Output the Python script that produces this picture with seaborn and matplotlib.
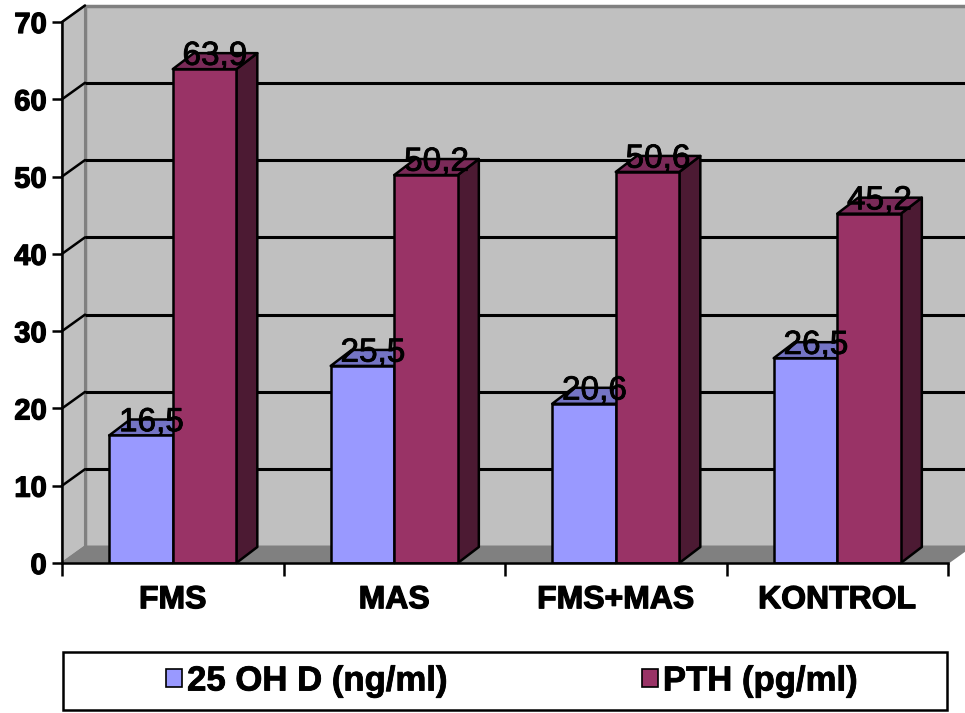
import matplotlib
matplotlib.use("Agg")
import matplotlib.pyplot as plt
import matplotlib.patheffects as pe
from matplotlib.patches import Polygon, Rectangle, Patch
import seaborn as sns
import pandas as pd

# Data
categories = ["FMS", "MAS", "FMS+MAS", "KONTROL"]
series_names = ["25 OH D (ng/ml)", "PTH (pg/ml)"]
vit_d = [16.5, 25.5, 20.6, 26.5]
pth = [63.9, 50.2, 50.6, 45.2]
y_ticks = [0, 10, 20, 30, 40, 50, 60, 70]

front_colors = ["#9999FF", "#993366"]
top_colors = ["#7474C4", "#7A2A58"]
side_colors = ["#5A5AA0", "#4C1A33"]
wall_color = "#C0C0C0"
floor_color = "#808080"
edge_grey = "#808080"

df = pd.DataFrame({
    "group": categories * 2,
    "series": [series_names[0]] * 4 + [series_names[1]] * 4,
    "value": vit_d + pth,
})

sns.set_theme(style="white")
plt.rcParams["font.family"] = ["Liberation Sans", "DejaVu Sans"]
plt.rcParams["text.color"] = "black"
plt.rcParams["xtick.labelcolor"] = "black"
plt.rcParams["ytick.labelcolor"] = "black"

heavy = [pe.withStroke(linewidth=0.9, foreground="black")]

W, H = 965, 713
fig = plt.figure(figsize=(W / 100, H / 100), dpi=100)
fig.patch.set_facecolor("white")

# front plane of the 3D box
ax_left, ax_right, ax_bottom, ax_top = 62, 948, 563, 22
ax = fig.add_axes([ax_left / W, (H - ax_bottom) / H,
                   (ax_right - ax_left) / W, (ax_bottom - ax_top) / H])
ax.set_facecolor("none")

sns.barplot(data=df, x="group", y="value", hue="series", order=categories,
            hue_order=series_names, palette=front_colors, width=0.574,
            edgecolor="black", linewidth=1.8, saturation=1, legend=False,
            ax=ax, zorder=3)

ax.set_xlim(-0.5, len(categories) - 0.5)
ax.set_ylim(0, 70)

# pixel -> data conversion for depth offsets
px_x = (len(categories)) / (ax_right - ax_left)
px_y = 70 / (ax_bottom - ax_top)

wall_dx, wall_dy = 23 * px_x, 16.5 * px_y
bar_dx, bar_dy = 21 * px_x, 16 * px_y

x0, x1 = -0.5, len(categories) - 0.5

# side wall, back wall and floor
side_wall = Polygon([(x0, 0), (x0, 70), (x0 + wall_dx, 70 + wall_dy), (x0 + wall_dx, wall_dy)],
                    closed=True, facecolor=wall_color, edgecolor=edge_grey, lw=1.5,
                    zorder=0.5, clip_on=False)
back_wall = Polygon([(x0 + wall_dx, wall_dy), (x1 + wall_dx, wall_dy),
                     (x1 + wall_dx, 70 + wall_dy), (x0 + wall_dx, 70 + wall_dy)],
                    closed=True, facecolor=wall_color, edgecolor=edge_grey, lw=2.5,
                    zorder=0.4, clip_on=False)
floor = Polygon([(x0, 0), (x1, 0), (x1 + wall_dx, wall_dy), (x0 + wall_dx, wall_dy)],
                closed=True, facecolor=floor_color, edgecolor=edge_grey, lw=1.2,
                zorder=0.6, clip_on=False)
for p in (side_wall, back_wall, floor):
    ax.add_patch(p)

# gridlines on the back wall plus the slanted lines on the side wall
for v in y_ticks[1:-1]:
    ax.plot([x0 + wall_dx, x1 + wall_dx], [v + wall_dy, v + wall_dy],
            color="black", lw=2.2, zorder=1, clip_on=False, solid_capstyle="butt")
for v in y_ticks[1:]:
    ax.plot([x0, x0 + wall_dx], [v, v + wall_dy], color="black", lw=1.8,
            zorder=1, clip_on=False)

# 3D faces for the bars, derived from the drawn bar rectangles
bars = [b for b in ax.patches if isinstance(b, Rectangle) and b.get_height() > 0]
for b in bars:
    fc = b.get_facecolor()
    idx = 0 if fc[2] > 0.9 else 1
    bx, bw, bh = b.get_x(), b.get_width(), b.get_height()
    top = Polygon([(bx, bh), (bx + bw, bh), (bx + bw + bar_dx, bh + bar_dy), (bx + bar_dx, bh + bar_dy)],
                  closed=True, facecolor=top_colors[idx], edgecolor="black", lw=1.8,
                  zorder=2, clip_on=False, joinstyle="round")
    side = Polygon([(bx + bw, 0), (bx + bw, bh), (bx + bw + bar_dx, bh + bar_dy), (bx + bw + bar_dx, bar_dy)],
                   closed=True, facecolor=side_colors[idx], edgecolor="black", lw=1.8,
                   zorder=2, clip_on=False, joinstyle="round")
    ax.add_patch(side)
    ax.add_patch(top)
    label = f"{bh:.1f}".replace(".", ",")
    ax.text(bx + bw / 2 + bar_dx / 2, bh + bar_dy * 0.8, label, ha="center", va="center",
            fontsize=24, color="black", zorder=5, clip_on=False,
            path_effects=[pe.withStroke(linewidth=0.6, foreground="black")])

# axes styling
for s in ("top", "right"):
    ax.spines[s].set_visible(False)
for s in ("left", "bottom"):
    ax.spines[s].set_color("black")
    ax.spines[s].set_linewidth(1.8)
    ax.spines[s].set_zorder(4)

ax.set_yticks(y_ticks)
ax.set_yticklabels([str(v) for v in y_ticks], fontsize=21, fontweight="bold",
                   color="black")
ax.tick_params(axis="y", length=7, width=1.8, color="black", pad=4, left=True)

ax.set_xticks(range(len(categories)))
ax.set_xticklabels(categories, fontsize=23, fontweight="bold", color="black")
ax.set_xticks([i - 0.5 for i in range(len(categories) + 1)], minor=True)
ax.tick_params(axis="x", which="major", length=0, pad=16)
ax.tick_params(axis="x", which="minor", length=9, width=1.8, color="black", bottom=True)
for t in ax.get_xticklabels() + ax.get_yticklabels():
    t.set_path_effects(heavy)
ax.set_xlabel("")
ax.set_ylabel("")
ax.grid(False)

# legend in a framed box below the chart
fig.add_artist(Rectangle((63 / W, (H - 710) / H), (947 - 63) / W, (710 - 652) / H,
                         transform=fig.transFigure, facecolor="white",
                         edgecolor="black", lw=1.8))
handles = [Patch(facecolor=c, edgecolor="black", lw=1.2) for c in front_colors]
leg = fig.legend(handles, series_names, loc="center", ncol=2,
                 bbox_to_anchor=(512 / W, (H - 681) / H), frameon=False,
                 prop={"size": 25, "weight": "bold"}, handlelength=0.45,
                 handleheight=0.45, handletextpad=0.15, columnspacing=5.6)
for t in leg.get_texts():
    t.set_color("black")
    t.set_path_effects([pe.withStroke(linewidth=0.6, foreground="black")])

fig.savefig("out.png", dpi=100, facecolor="white")
